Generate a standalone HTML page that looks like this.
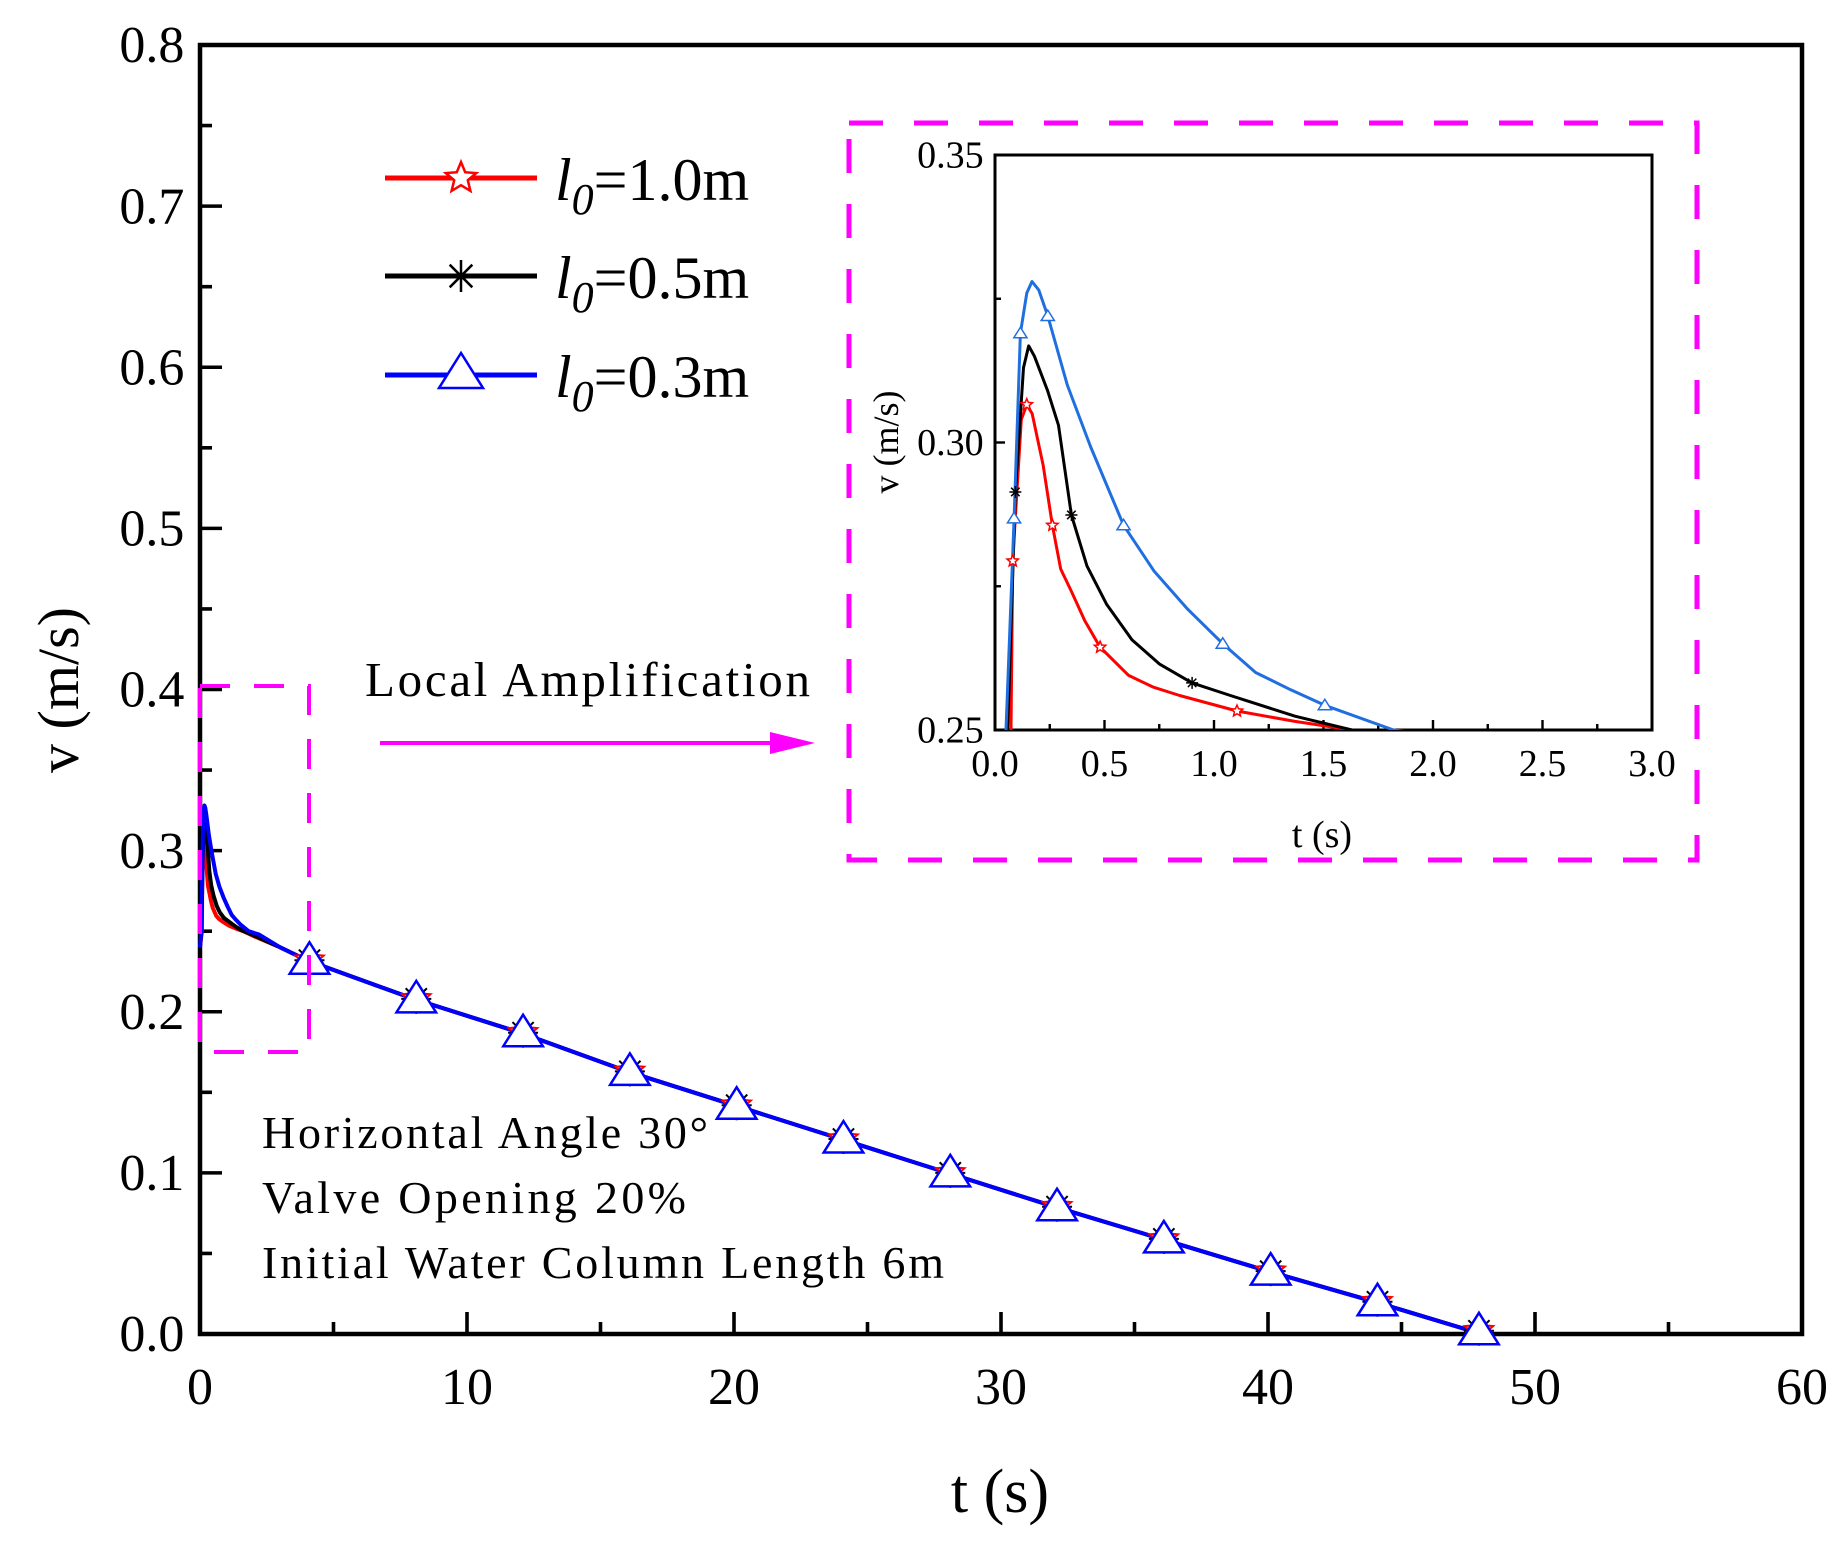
<!DOCTYPE html>
<html><head><meta charset="utf-8"><style>
html,body{margin:0;padding:0;background:#fff;width:1847px;height:1544px;overflow:hidden}
svg{display:block;font-family:"Liberation Serif",serif}
</style></head><body>
<svg id="chart" width="1847" height="1544" viewBox="0 0 1847 1544" xmlns="http://www.w3.org/2000/svg">
<rect width="1847" height="1544" fill="#fff"/>
<g id="main"></g>
<g id="inset"></g>
<g id="deco">
  <rect x="200" y="686" width="109" height="366" fill="none" stroke="#ff00ff" stroke-width="4" stroke-dasharray="30,24"/>
  <rect x="849" y="123" width="848" height="737" fill="none" stroke="#ff00ff" stroke-width="5" stroke-dasharray="34,31"/>
  <line x1="380" y1="743" x2="780" y2="743" stroke="#ff00ff" stroke-width="4"/>
  <polygon points="770,732 815,743 770,754" fill="#ff00ff"/>
  <text x="365" y="696" font-size="49" textLength="445">Local Amplification</text>
  <text x="262" y="1148" font-size="46" textLength="446">Horizontal Angle 30°</text>
  <text x="262" y="1213" font-size="46" textLength="424">Valve Opening 20%</text>
  <text x="262" y="1278" font-size="46" textLength="682">Initial Water Column Length 6m</text>
</g>
<g id="legend"></g>
</svg>
<script>
// ---- data ----
const mainXTicks = [0,10,20,30,40,50,60];
const mainYTicks = [0.0,0.1,0.2,0.3,0.4,0.5,0.6,0.7,0.8];
const insetXTicks = [0.0,0.5,1.0,1.5,2.0,2.5,3.0];
const insetYTicks = [0.25,0.30,0.35];
const seriesNames = ["l0=1.0m","l0=0.5m","l0=0.3m"];
const tailT = [3,4,8,12,16,20,24,28,32,36,40,44,48];
const tailV = [0.240,0.232,0.208,0.187,0.163,0.142,0.121,0.100,0.079,0.059,0.039,0.020,0.0];
const tRed = [0,0.073,0.081,0.12,0.145,0.17,0.22,0.262,0.3,0.349,0.41,0.48,0.61,0.72,0.843,1.105,1.37,1.63,2.0];
const vRed = [0.24,0.25,0.2794,0.304,0.3066,0.305,0.296,0.2856,0.278,0.2741,0.269,0.2644,0.2595,0.2575,0.256,0.2533,0.2515,0.25,0.247];
const tBlack = [0,0.058,0.093,0.13,0.154,0.18,0.24,0.29,0.349,0.42,0.509,0.625,0.75,0.9,1.075,1.37,1.63,2.0];
const vBlack = [0.24,0.25,0.2914,0.313,0.3168,0.315,0.309,0.303,0.2874,0.2785,0.2719,0.2657,0.2615,0.2582,0.256,0.2524,0.25,0.2475];
const tBlue = [0,0.05,0.087,0.116,0.145,0.169,0.2,0.241,0.33,0.436,0.587,0.727,0.88,1.04,1.19,1.35,1.506,1.82,2.2];
const vBlue = [0.24,0.25,0.2868,0.319,0.326,0.328,0.3265,0.322,0.31,0.2993,0.2856,0.2776,0.271,0.265,0.26,0.257,0.2543,0.25,0.248];
const markT = [4.1,8.1,12.1,16.1,20.1,24.1,28.1,32.1,36.1,40.1,44.1,47.9];
const markV = [0.232,0.208,0.187,0.163,0.142,0.121,0.100,0.079,0.059,0.039,0.020,0.002];
const inRedT = [0.081,0.145,0.262,0.48,1.105];
const inRedV = [0.2794,0.3066,0.2856,0.2644,0.2533];
const inBlackT = [0.093,0.349,0.9];
const inBlackV = [0.2914,0.2874,0.2582];
const inBlueT = [0.087,0.116,0.241,0.587,1.04,1.506];
const inBlueV = [0.2868,0.319,0.322,0.2856,0.265,0.2543];

const NS="http://www.w3.org/2000/svg";
function mk(tag,attrs,parent){const e=document.createElementNS(NS,tag);for(const k in attrs)e.setAttribute(k,attrs[k]);parent.appendChild(e);return e;}

const M={x0:200,x1:1802,y0:1334,y1:45,xmin:0,xmax:60,ymin:0,ymax:0.8};
const I={x0:995,x1:1652,y0:730,y1:155,xmin:0,xmax:3,ymin:0.25,ymax:0.35};
function sx(a,v){return a.x0+(v-a.xmin)/(a.xmax-a.xmin)*(a.x1-a.x0);}
function sy(a,v){return a.y0-(v-a.ymin)/(a.ymax-a.ymin)*(a.y0-a.y1);}

function starPath(cx,cy,r){let d="";for(let i=0;i<10;i++){const rr=i%2?r*0.45:r;const a=-Math.PI/2+i*Math.PI/5;d+=(i?"L":"M")+(cx+rr*Math.cos(a)).toFixed(1)+","+(cy+rr*Math.sin(a)).toFixed(1);}return d+"Z";}
function drawMarker(g,kind,cx,cy,r,color,sw){
  let el;
  if(kind==="star"){el=mk("path",{d:starPath(cx,cy,r),fill:"#fff",stroke:color,"stroke-width":sw},g);}
  else if(kind==="ast"){let d="";for(let i=0;i<4;i++){const a=i*Math.PI/4;d+=`M${cx-r*Math.cos(a)},${cy-r*Math.sin(a)}L${cx+r*Math.cos(a)},${cy+r*Math.sin(a)}`;}el=mk("path",{d:d,fill:"none",stroke:color,"stroke-width":sw},g);}
  else {el=mk("polygon",{points:`${cx},${cy-r} ${cx-r*1.1},${cy+r*0.75} ${cx+r*1.1},${cy+r*0.75}`,fill:"#fff",stroke:color,"stroke-width":sw},g);}
  
  
}

function drawAxes(g,a,xt,yt,xminor,yminor,fs,lw,xdec,ydec,majL,minL,name,xoff){
  const f=mk("rect",{x:a.x0,y:a.y1,width:a.x1-a.x0,height:a.y0-a.y1,fill:"none",stroke:"#000","stroke-width":lw},g);
  
  
  xt.forEach((v,i)=>{const x=sx(a,v);
    const t=mk("line",{x1:x,y1:a.y0,x2:x,y2:a.y0-majL,stroke:"#000","stroke-width":lw*0.8},g);
    
    
    const l=mk("text",{x:x,y:a.y0+xoff,"font-size":fs,"text-anchor":"middle"},g);l.textContent=v.toFixed(xdec);
    
    
    if(i<xt.length-1){const xm=sx(a,v+xminor);const m=mk("line",{x1:xm,y1:a.y0,x2:xm,y2:a.y0-minL,stroke:"#000","stroke-width":lw*0.8},g);
      
      }
  });
  yt.forEach((v,i)=>{const y=sy(a,v);
    const t=mk("line",{x1:a.x0,y1:y,x2:a.x0+majL,y2:y,stroke:"#000","stroke-width":lw*0.8},g);
    
    
    const l=mk("text",{x:a.x0-fs*0.3,y:y+fs*0.33,"font-size":fs,"text-anchor":"end"},g);l.textContent=v.toFixed(ydec);
    
    
    if(i<yt.length-1){const ym=sy(a,v+yminor);const m=mk("line",{x1:a.x0,y1:ym,x2:a.x0+minL,y2:ym,stroke:"#000","stroke-width":lw*0.8},g);
      
      }
  });
}

const main=document.getElementById("main"), inset=document.getElementById("inset");
drawAxes(main,M,mainXTicks,mainYTicks,5,0.05,52,4.5,0,1,22,12,"main",70);
drawAxes(inset,I,insetXTicks,insetYTicks,0.25,0.025,38,3,1,2,10,6,"inset",46);

let tt=mk("text",{x:1000,y:1512,"font-size":62,"text-anchor":"middle"},main);tt.textContent="t (s)";


tt=mk("text",{x:0,y:0,"font-size":58,"text-anchor":"middle",transform:"translate(78,690) rotate(-90)"},main);tt.textContent="v (m/s)";


tt=mk("text",{x:1322,y:847,"font-size":38,"text-anchor":"middle"},inset);tt.textContent="t (s)";


tt=mk("text",{x:0,y:0,"font-size":36,"text-anchor":"middle",transform:"translate(898,442) rotate(-90)"},inset);tt.textContent="v (m/s)";



const defs=mk("defs",{},document.getElementById("chart"));
const cp=mk("clipPath",{id:"ic"},defs);mk("rect",{x:I.x0,y:I.y1,width:I.x1-I.x0,height:I.y0-I.y1},cp);

function pathFrom(a,ts,vs){return ts.map((t,i)=>(i?"L":"M")+sx(a,t).toFixed(1)+","+sy(a,vs[i]).toFixed(1)).join("");}
const series=[
  {t:tRed,v:vRed,c:"#ff0000",ci:"#ff0000",m:"star",it:inRedT,iv:inRedV,n:"red"},
  {t:tBlack,v:vBlack,c:"#000000",ci:"#000000",m:"ast",it:inBlackT,iv:inBlackV,n:"black"},
  {t:tBlue,v:vBlue,c:"#0000ff",ci:"#1f6fe0",m:"tri",it:inBlueT,iv:inBlueV,n:"blue"}
];
series.forEach(s=>{
  const T=s.t.concat(tailT), V=s.v.concat(tailV);
  const p=mk("path",{d:pathFrom(M,T,V),fill:"none",stroke:s.c,"stroke-width":4,"stroke-linejoin":"round"},main);
  
  
  const q=mk("path",{d:pathFrom(I,T,V),fill:"none",stroke:s.ci,"stroke-width":3,"stroke-linejoin":"round","clip-path":"url(#ic)"},inset);
  
  
});
series.forEach(s=>{
  markT.forEach((t,i)=>drawMarker(main,s.m,sx(M,t),sy(M,markV[i]),s.m==="tri"?18:15,s.c,s.m==="tri"?2.5:2));
  s.it.forEach((t,i)=>drawMarker(inset,s.m,sx(I,t),sy(I,s.iv[i]),6,s.ci,1.5));
});

const lg=document.getElementById("legend");
const legY=[178,276,375];
series.forEach((s,i)=>{
  const l=mk("line",{x1:385,y1:legY[i],x2:537,y2:legY[i],stroke:s.c,"stroke-width":5},lg);
  
  
  drawMarker(lg,s.m,461,legY[i]+(s.m==="tri"?-2:0),s.m==="tri"?20:16,s.c,2.5);
  const t=mk("text",{x:555,y:legY[i]+22,"font-size":60},lg);
  
  
  const a=mk("tspan",{"font-style":"italic"},t);a.textContent="l";
  const b=mk("tspan",{"font-style":"italic","font-size":44,dy:14},t);b.textContent="0";
  const c=mk("tspan",{dy:-14},t);c.textContent=seriesNames[i].slice(2);
});
</script>
</body></html>
